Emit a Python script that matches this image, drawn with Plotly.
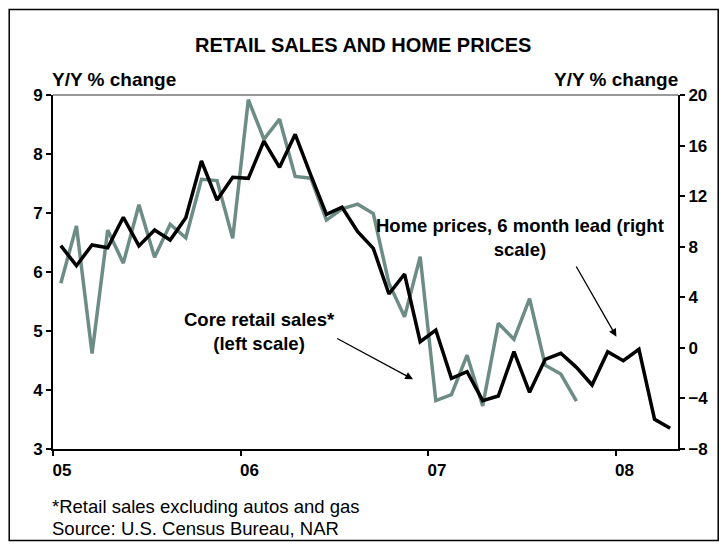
import plotly.graph_objects as go

months = list(range(40))  # Jan 2005 .. Apr 2008, monthly categories
year_tick_pos = [-0.5, 11.5, 23.5, 35.5]
year_labels = ["05", "06", "07", "08"]

retail_sales = [5.81, 6.78, 4.62, 6.71, 6.15, 7.14, 6.25, 6.81, 6.58, 7.57,
                7.55, 6.57, 8.92, 8.25, 8.59, 7.62, 7.59, 6.88, 7.07, 7.15,
                6.99, 5.81, 5.24, 6.26, 3.82, 3.92, 4.59, 3.73, 5.13, 4.86,
                5.55, 4.42, 4.27, 3.81]

home_prices = [8.08, 6.50, 8.14, 7.92, 10.33, 8.06, 9.32, 8.53, 10.29, 14.78,
               11.69, 13.49, 13.41, 16.36, 14.28, 16.89, 13.67, 10.56, 11.12, 9.19,
               7.87, 4.26, 5.84, 0.49, 1.41, -2.41, -1.89, -4.18, -3.81, -0.30,
               -3.52, -0.91, -0.43, -1.54, -2.94, -0.30, -1.02, -0.11, -5.65, -6.36]

FONT = "Liberation Sans, Arial, sans-serif"
W, H = 727, 548
L, R, T, B = 53.3, 48.7, 95, 99
pw, ph = W - L - R, H - T - B

def px(x):
    return (x - L) / pw

def py(y):
    return (H - B - y) / ph

fig = go.Figure()
fig.add_trace(go.Scatter(x=months[:len(retail_sales)], y=retail_sales, mode="lines",
                         line=dict(color="#6E8C86", width=3.5), yaxis="y", showlegend=False))
fig.add_trace(go.Scatter(x=months, y=home_prices, mode="lines",
                         line=dict(color="#000000", width=3.5), yaxis="y2", showlegend=False))

tickfont = dict(family=FONT, size=17, color="black", weight="bold")
fig.update_layout(
    template="none",
    width=W, height=H,
    margin=dict(l=L, r=R, t=T, b=B, pad=0),
    paper_bgcolor="white", plot_bgcolor="white",
    font=dict(family=FONT, color="black"),
    xaxis=dict(range=[-0.5, 39.5], tickvals=year_tick_pos, ticktext=year_labels,
               ticklabelshift=9, ticks="outside", ticklen=5, tickwidth=1.5, tickcolor="black",
               showline=True, linewidth=2, linecolor="black", showgrid=False, zeroline=False,
               tickfont=tickfont, automargin=False),
    yaxis=dict(range=[3, 9], dtick=1, ticks="outside", ticklen=5, tickwidth=1.5, tickcolor="black",
               showline=True, linewidth=2, linecolor="black", showgrid=False, zeroline=False,
               tickfont=tickfont, automargin=False),
    yaxis2=dict(range=[-8, 20], dtick=4, overlaying="y", side="right", ticks="outside",
                ticklen=5, tickwidth=1.5, tickcolor="black",
                showline=True, linewidth=2, linecolor="black", showgrid=False, zeroline=False,
                tickfont=tickfont, automargin=False),
)

# plot frame top line and outer border
fig.add_shape(type="line", xref="paper", yref="paper", x0=0, x1=1, y0=1, y1=1,
              line=dict(color="#333333", width=1))
fig.add_shape(type="rect", xref="paper", yref="paper",
              x0=px(9.5), x1=px(718.5), y0=py(9.5), y1=py(540.5),
              line=dict(color="black", width=1.5))

bold = dict(family=FONT, size=19, color="black", weight="bold")
fig.add_annotation(text="RETAIL SALES AND HOME PRICES", xref="paper", yref="paper",
                   x=px(363), y=py(45), showarrow=False,
                   font=dict(family=FONT, size=20, color="black", weight="bold"),
                   xanchor="center", yanchor="middle")
fig.add_annotation(text="Y/Y % change", xref="paper", yref="paper", x=px(50), y=py(80),
                   showarrow=False, font=bold, xanchor="left", yanchor="middle")
fig.add_annotation(text="Y/Y % change", xref="paper", yref="paper", x=px(680), y=py(80),
                   showarrow=False, font=bold, xanchor="right", yanchor="middle")
anno = dict(family=FONT, size=18.5, color="black", weight="bold")
fig.add_annotation(text="Core retail sales*<br>(left scale)", xref="paper", yref="paper",
                   x=px(260), y=py(331), showarrow=False, font=anno,
                   xanchor="center", yanchor="middle", align="center")
fig.add_annotation(text="Home prices, 6 month lead (right<br>scale)", xref="paper", yref="paper",
                   x=px(520.7), y=py(237.5), showarrow=False, font=anno,
                   xanchor="center", yanchor="middle", align="center")
# arrows
fig.add_annotation(text="", xref="paper", yref="paper", x=px(413.3), y=py(379.3),
                   ax=-77.3, ay=-41.6, showarrow=True, arrowhead=2, arrowsize=1.2,
                   arrowwidth=1.3, arrowcolor="black")
fig.add_annotation(text="", xref="paper", yref="paper", x=px(616.7), y=py(336.7),
                   ax=-41, ay=-71.7, showarrow=True, arrowhead=2, arrowsize=1.2,
                   arrowwidth=1.3, arrowcolor="black")
reg = dict(family=FONT, size=18.5, color="black")
fig.add_annotation(text="*Retail sales excluding autos and gas", xref="paper", yref="paper",
                   x=px(50), y=py(506), showarrow=False, font=reg, xanchor="left", yanchor="middle")
fig.add_annotation(text="Source: U.S. Census Bureau, NAR", xref="paper", yref="paper",
                   x=px(50), y=py(528), showarrow=False, font=reg, xanchor="left", yanchor="middle")

fig.write_html("out.html", config={"displayModeBar": False},
               post_script="document.body.style.margin='0';document.body.style.overflow='hidden';")
